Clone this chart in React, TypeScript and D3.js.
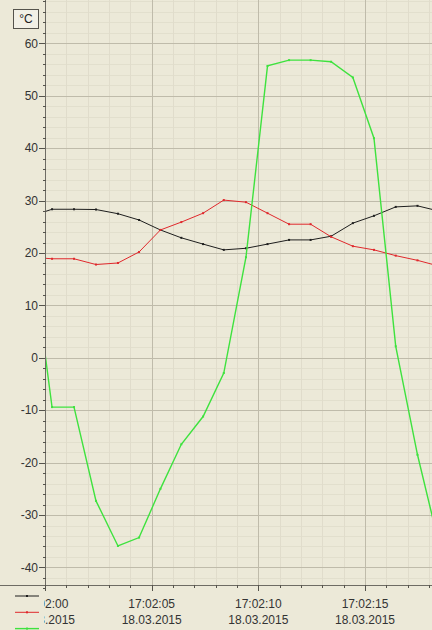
import React from "react";
import * as d3 from "d3";

// seconds after 17:02:00 (18.03.2015) of every sample
const sampleSeconds = [
  -0.68, 0.33, 1.36, 2.39, 3.42, 4.41, 5.41, 6.39, 7.41, 8.38, 9.42, 10.43,
  11.44, 12.45, 13.41, 14.43, 15.42, 16.44, 17.46, 18.47,
];

const blackValues = [
  27.0, 28.35, 28.35, 28.3, 27.5, 26.3, 24.4, 22.9, 21.7, 20.6, 20.9, 21.7,
  22.5, 22.5, 23.2, 25.7, 27.1, 28.8, 29.0, 28.0,
];
const redValues = [
  19.2, 18.9, 18.9, 17.8, 18.1, 20.2, 24.4, 25.9, 27.6, 30.1, 29.7, 27.6, 25.5,
  25.5, 23.1, 21.3, 20.6, 19.5, 18.6, 17.5,
];
const greenValues = [
  22.0, -9.4, -9.4, -27.3, -35.9, -34.3, -25.0, -16.5, -11.2, -2.9, 19.2, 55.7,
  56.8, 56.8, 56.5, 53.5, 41.9, 2.2, -18.5, -35.6,
];

const xTickSeconds = [0, 5, 10, 15];
const xTickTimes = ["17:02:00", "17:02:05", "17:02:10", "17:02:15"];
const xTickDate = "18.03.2015";
const yTicks = [60, 50, 40, 30, 20, 10, 0, -10, -20, -30, -40];
const unitLabel = "°C";

const series = [
  { key: "black", values: blackValues, color: "#1e1e1e", width: 1 },
  { key: "red", values: redValues, color: "#e0282c", width: 1 },
  { key: "green", values: greenValues, color: "#3ee23e", width: 1.4 },
];

const W = 432;
const H = 630;
const left = 45;
const bottom = 585;
const bg = "#ece9d8";
const font = "'Liberation Sans', Arial, sans-serif";

export default function App() {
  const x = d3.scaleLinear().domain([0, 18.14]).range([left, W]);
  const y = d3.scaleLinear().domain([-43.35, 68.28]).range([bottom, 0]);

  const minorX = d3.range(-1, 19);
  const minorY = d3.range(-44, 70, 2);

  return (
    <div style={{ position: "fixed", left: 0, top: 0, width: W, height: H }}>
      <svg width={W} height={H} style={{ display: "block", background: bg }}>
        <defs>
          <clipPath id="plot">
            <rect x={left} y={0} width={W - left} height={bottom} />
          </clipPath>
          <clipPath id="xlab">
            <rect x={left - 1} y={bottom} width={W - left + 1} height={H - bottom} />
          </clipPath>
        </defs>

        {/* grid */}
        <g clipPath="url(#plot)">
          {minorY.map((v) => (
            <line key={"my" + v} x1={left} x2={W} y1={Math.round(y(v)) + 0.5} y2={Math.round(y(v)) + 0.5}
              stroke="#e2dfcd" strokeWidth={1} />
          ))}
          {minorX.map((s) => (
            <line key={"mx" + s} x1={Math.round(x(s)) + 0.5} x2={Math.round(x(s)) + 0.5} y1={0} y2={bottom}
              stroke="#e0dccb" strokeWidth={1} />
          ))}
          {yTicks.map((v) => (
            <line key={"gy" + v} x1={left} x2={W} y1={Math.round(y(v)) + 0.5} y2={Math.round(y(v)) + 0.5}
              stroke="#bfbbaa" strokeWidth={1} />
          ))}
          {xTickSeconds.map((s) => (
            <line key={"gx" + s} x1={Math.round(x(s)) + 0.5} x2={Math.round(x(s)) + 0.5} y1={0} y2={bottom}
              stroke="#bfbbaa" strokeWidth={1} />
          ))}

          {series.map((s) => {
            const pts = sampleSeconds.map((t, i) => [t, s.values[i]] as [number, number]);
            const line = d3.line<[number, number]>().x((d) => x(d[0])).y((d) => y(d[1]));
            return (
              <g key={s.key}>
                <path d={line(pts) || ""} fill="none" stroke={s.color} strokeWidth={s.width} />
                {pts.map((d, i) => (
                  <rect key={i} x={x(d[0]) - 1} y={y(d[1]) - 1} width={2} height={2} fill={s.color} />
                ))}
              </g>
            );
          })}
        </g>

        {/* y axis */}
        <line x1={left + 0.5} x2={left + 0.5} y1={0} y2={bottom} stroke="#6e6c64" />
        {minorY.filter((v) => v % 10 !== 0).map((v) => (
          <line key={"ty" + v} x1={left - 2} x2={left + 1} y1={Math.round(y(v)) + 0.5} y2={Math.round(y(v)) + 0.5}
            stroke="#55534c" />
        ))}
        {yTicks.map((v) => (
          <g key={"ly" + v}>
            <line x1={left - 6} x2={left} y1={Math.round(y(v)) + 0.5} y2={Math.round(y(v)) + 0.5} stroke="#55534c" />
            <text x={38} y={y(v)} dy="0.35em" textAnchor="end" fontFamily={font} fontSize={12} fill="#333">
              {v}
            </text>
          </g>
        ))}

        {/* x axis */}
        <line x1={0} x2={W} y1={bottom + 0.5} y2={bottom + 0.5} stroke="#6e6c64" />
        {minorX.filter((s) => s >= 0 && s % 5 !== 0).map((s) => (
          <line key={"tx" + s} x1={Math.round(x(s)) + 0.5} x2={Math.round(x(s)) + 0.5} y1={bottom} y2={bottom + 3}
            stroke="#55534c" />
        ))}
        <g clipPath="url(#xlab)">
          {xTickSeconds.map((s, i) => (
            <g key={"lx" + s}>
              <line x1={Math.round(x(s)) + 0.5} x2={Math.round(x(s)) + 0.5} y1={bottom} y2={bottom + 6} stroke="#55534c" />
              <text x={x(s)} y={608} textAnchor="middle" fontFamily={font} fontSize={12} fill="#333">
                {xTickTimes[i]}
              </text>
              <text x={x(s)} y={624} textAnchor="middle" fontFamily={font} fontSize={12} fill="#333">
                {xTickDate}
              </text>
            </g>
          ))}
        </g>

        {/* legend */}
        {series.map((s, i) => (
          <g key={"lg" + s.key}>
            <line x1={15} x2={39} y1={596 + i * 16.3} y2={596 + i * 16.3} stroke={s.color} strokeWidth={s.width} />
            <rect x={26} y={595 + i * 16.3} width={2} height={2} fill={s.color} />
          </g>
        ))}

        {/* unit box */}
        <rect x={13.5} y={9.5} width={25} height={19} fill="#f2f0e6" stroke="#55534c" />
        <text x={26} y={19} dy="0.35em" textAnchor="middle" fontFamily={font} fontSize={12} fill="#222">
          {unitLabel}
        </text>
      </svg>
    </div>
  );
}
